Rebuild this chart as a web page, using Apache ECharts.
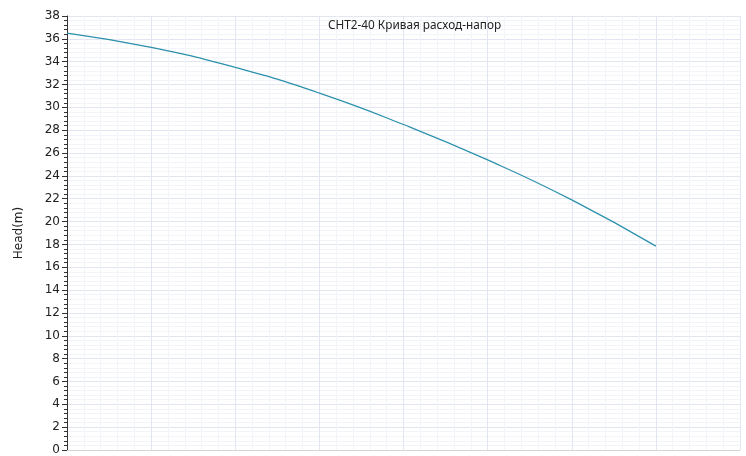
<!DOCTYPE html>
<html>
<head>
<meta charset="utf-8">
<title>CHT2-40</title>
<style>
    html, body {margin: 0; padding: 0; background: #fff;}
    #main {width: 746px; height: 456px;}
</style>
</head>
<body>
<div id="main"></div>
<script src="https://cdn.jsdelivr.net/npm/echarts@6/dist/echarts.min.js"></script>
<script type="text/javascript">
    // расход (условные деления оси X) и напор, м
    var flow = [0, 1, 2, 3, 4, 5, 6, 7];
    var head = [36.5, 35.25, 33.5, 31.25, 28.5, 25.4, 21.9, 17.85];
    var yTicks = [0, 38, 2];   // min, max, interval
    var xTicks = [0, 8, 1];

    var points = flow.map(function (q, i) { return [q, head[i]]; });

    var myChart = echarts.init(document.getElementById('main'));
    var font = 'DejaVu Sans';

    var option = {
        animation: false,
        title: {
            text: 'CHT2-40 Кривая расход-напор',
            left: 323,
            top: 15,
            textStyle: {fontFamily: 'Noto Sans', fontSize: 11.8, fontWeight: 'normal', color: '#222'}
        },
        grid: {left: 67, right: 6, top: 16, bottom: 1},
        xAxis: {
            type: 'value',
            min: xTicks[0],
            max: xTicks[1],
            interval: xTicks[2],
            axisLine: {show: true, lineStyle: {color: '#d4d4d4'}},
            axisTick: {show: false},
            axisLabel: {show: false},
            splitLine: {show: true, lineStyle: {color: '#e2e6f1', width: 1}},
            minorTick: {show: false, splitNumber: 5},
            minorSplitLine: {show: true, lineStyle: {color: '#f3f4f9', width: 1}}
        },
        yAxis: {
            type: 'value',
            name: 'Head(m)',
            nameLocation: 'middle',
            nameGap: 42,
            nameTextStyle: {fontFamily: font, fontSize: 12, color: '#222'},
            min: yTicks[0],
            max: yTicks[1],
            interval: yTicks[2],
            axisLine: {show: true, lineStyle: {color: '#333', width: 1}},
            axisTick: {show: true, length: 5, lineStyle: {color: '#333'}},
            minorTick: {show: true, splitNumber: 5, length: 3, lineStyle: {color: '#333'}},
            axisLabel: {fontFamily: font, fontSize: 12, color: '#222', margin: 7,
                verticalAlign: 'middle', padding: [0, 0, 7, 0]},
            splitLine: {show: true, lineStyle: {color: '#e2e6f1', width: 1}},
            minorSplitLine: {show: true, lineStyle: {color: '#f3f4f9', width: 1}}
        },
        series: [{
            name: 'Head',
            type: 'line',
            smooth: true,
            showSymbol: false,
            lineStyle: {color: '#2b90ac', width: 1.2},
            data: points
        }]
    };

    myChart.setOption(option);
</script>
</body>
</html>
